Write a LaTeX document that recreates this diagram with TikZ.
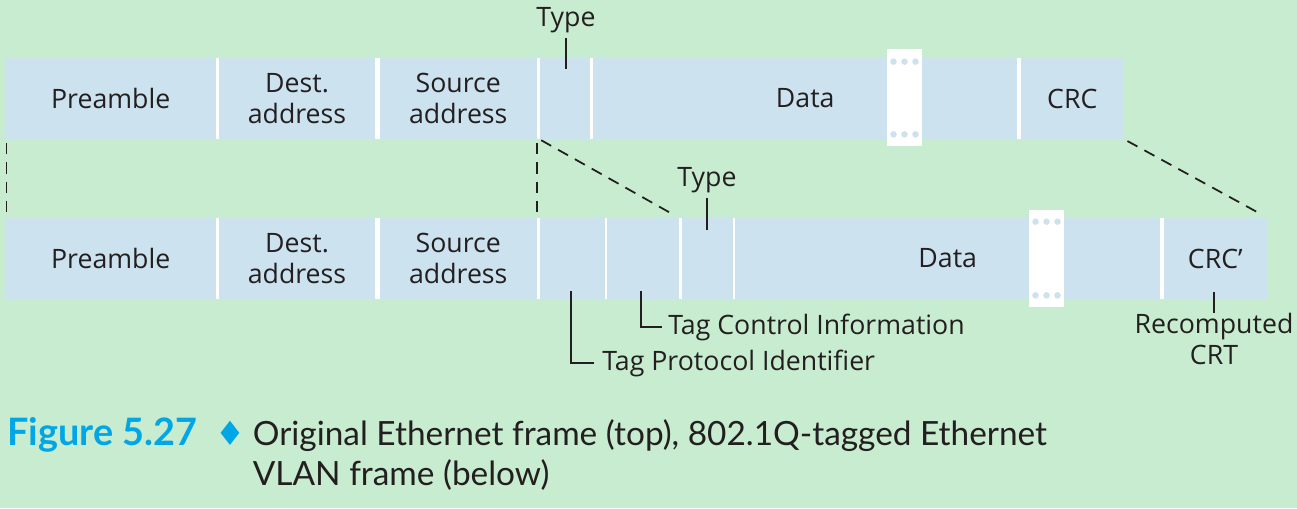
\documentclass[tikz,border=0pt]{standalone}
\usepackage{fontspec}
\setmainfont{Open Sans}
\newfontfamily\capfont{Lato}
\newfontfamily\symfont{DejaVu Sans}
\usetikzlibrary{arrows.meta, positioning, calc}

\definecolor{bggreen}{RGB}{200,236,207}
\definecolor{fieldblue}{RGB}{204,226,239}
\definecolor{capblue}{RGB}{0,166,230}
\definecolor{inkgray}{RGB}{35,31,32}

\begin{document}
\begin{tikzpicture}[x=0.02cm, y=-0.02cm, >=Stealth,
    field/.style={fill=fieldblue, minimum height=1.62cm, inner sep=0pt, align=center,
        font=\fontsize{15.2}{17.5}\selectfont, text=inkgray},
    lbl/.style={font=\fontsize{15.2}{17.5}\selectfont, text=inkgray, inner sep=0pt, align=center},
    guide/.style={dash pattern=on 6.5pt off 4.5pt, line width=1pt, inkgray},
    tick/.style={line width=0.6pt, inkgray},
    gapbox/.style={fill=white, inner sep=0pt, minimum width=0.7cm, minimum height=1.94cm},
    dot/.style={circle, fill=fieldblue, inner sep=0pt, minimum size=0.13cm}]
    \useasboundingbox (0,0) rectangle (1297,508);
    \fill[bggreen] (0,0) rectangle (1297,508);

    % original frame
    \fill[white] (5,58) rectangle (1124,139);
    \node[field, minimum width=4.23cm] (pre1) at (110.75,98.5) {Preamble};
    \node[field, minimum width=3.14cm] (dst1) at (297,98.5) {Dest.\\address};
    \node[field, minimum width=3.15cm] (src1) at (458.25,98.5) {Source\\address};
    \node[field, minimum width=1.00cm] (type1) at (565,98.5) {};
    \node[field, minimum width=8.49cm] (data1) at (805.25,98.5) {Data};
    \node[field, minimum width=2.07cm] (crc1) at (1072.25,98.5) {CRC};
    \node[gapbox] (gap1) at (904.5,97.5) {};
    \foreach \dx in {-11,0,11} {
        \node[dot] at ($(gap1.north)+(\dx,13)$) {};
        \node[dot] at ($(gap1.south)+(\dx,-12)$) {};
    }

    % tagged frame
    \fill[white] (5,218) rectangle (1267,299);
    \node[field, minimum width=4.23cm] (pre2) at (110.75,258.5) {Preamble};
    \node[field, minimum width=3.14cm] (dst2) at (297,258.5) {Dest.\\address};
    \node[field, minimum width=3.15cm] (src2) at (458.25,258.5) {Source\\address};
    \node[field, minimum width=1.29cm] (tpi) at (572.25,258.5) {};
    \node[field, minimum width=1.43cm] (tci) at (642.75,258.5) {};
    \node[field, minimum width=1.02cm] (type2) at (707,258.5) {};
    \node[field, minimum width=8.51cm] (data2) at (947.75,258.5) {Data};
    \node[field, minimum width=2.07cm] (crc2) at (1215.25,258.5) {CRC'};
    \node[gapbox] (gap2) at (1046.5,258.5) {};
    \foreach \dx in {-11,0,11} {
        \node[dot] at ($(gap2.north)+(\dx,12)$) {};
        \node[dot] at ($(gap2.south)+(\dx,-12)$) {};
    }

    % dashed guides between the frames
    \draw[guide, shorten <=2pt, shorten >=2pt] ([xshift=1pt]pre1.south west) -- ([xshift=1pt]pre2.north west);
    \draw[guide, shorten <=2pt, shorten >=2pt] (src1.south east) -- (src2.north east);
    \draw[guide, shorten <=1pt, shorten >=2pt] (type1.south west) -- (tci.north east);
    \draw[guide, shorten <=2pt, shorten >=3pt] (crc1.south east) -- (crc2.north east);

    % field labels
    \node[lbl, anchor=base] (type1lbl) at (566,26) {Type};
    \coordinate (type1tip) at (566,69);
    \draw[tick, shorten <=3pt] (type1lbl.south) -- (type1tip);

    \node[lbl, anchor=base] (type2lbl) at (707,186) {Type};
    \coordinate (type2tip) at (707,230);
    \draw[tick, shorten <=3pt] (type2lbl.south) -- (type2tip);

    \coordinate (tcitip) at (641,291);
    \node[lbl, anchor=west] (tcilbl) at (668,327) {Tag Control Information};
    \draw[tick, shorten >=3.5pt] (tcitip) |- (tcilbl.west);

    \coordinate (tpitip) at (571,291);
    \node[lbl, anchor=west] (tpilbl) at (602,363) {Tag Protocol Identifier};
    \draw[tick, shorten >=4.5pt] (tpitip) |- (tpilbl.west);

    \coordinate (crc2tip) at (1214,292);
    \node[lbl, anchor=north] (crc2lbl) at (1214,313) {Recomputed\\CRT};
    \draw[tick] (crc2tip) -- (crc2lbl.north);

    % caption
    \node[anchor=base west, inner sep=0pt, text=capblue, font=\capfont\bfseries\fontsize{21.5}{24}\selectfont] (fignum) at (7,445) {Figure 5.27};
    \node[anchor=base, inner sep=0pt, text=capblue, font=\symfont\fontsize{19}{20}\selectfont] (figmark) at (230,445) {♦};
    \node[anchor=base west, inner sep=0pt, align=left, text=inkgray, font=\capfont\fontsize{19}{22.7}\selectfont] (figtext) at (252.5,485)
        {Original Ethernet frame (top), 802.1Q-tagged Ethernet\\VLAN frame (below)};
\end{tikzpicture}
\end{document}
